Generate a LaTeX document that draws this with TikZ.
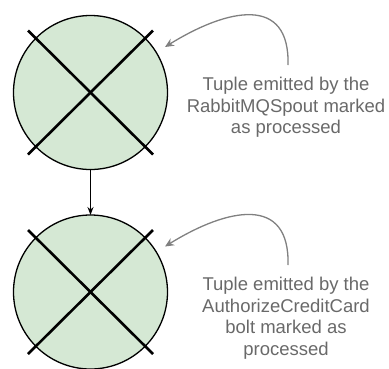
\documentclass[tikz,border=0pt]{standalone}
\usepackage{fontspec}
\setmainfont{Liberation Sans}
\usetikzlibrary{arrows.meta}
\definecolor{fillg}{HTML}{D5E8D4}
\definecolor{greyline}{RGB}{128,128,128}
\definecolor{greytext}{RGB}{105,105,105}
\begin{document}
\begin{tikzpicture}[x=1pt,y=-1pt,
  state/.style={circle, draw=black, line width=1.3pt, fill=fillg, minimum size=154pt, inner sep=0pt, outer sep=0pt},
  crossline/.style={line width=2.6pt, black},
  note/.style={align=center, text=greytext, font=\fontsize{18.5}{21.5}\selectfont, inner sep=0pt},
  callout/.style={greyline, line width=1.3pt, -{Stealth[length=9pt,width=8pt,inset=3pt]}},
  flow/.style={black, line width=1.3pt, -{Stealth[length=8pt,width=6pt]}}
]
\useasboundingbox (0,0) rectangle (389,368);
\node[state] (c1) at (90.5,92.5) {};
\node[state] (c2) at (90.5,292) {};
\draw[crossline] ([shift={(-62.5,-62)}]c1.center) -- ([shift={(62.5,62)}]c1.center);
\draw[crossline] ([shift={(62.5,-62)}]c1.center) -- ([shift={(-62.5,62)}]c1.center);
\draw[crossline] ([shift={(-62.5,-62)}]c2.center) -- ([shift={(62.5,62)}]c2.center);
\draw[crossline] ([shift={(62.5,-62)}]c2.center) -- ([shift={(-62.5,62)}]c2.center);
\draw[flow] (c1.south) -- (c2.north);
\node[note, anchor=north] (t1) at (286,77) {Tuple emitted by the\\RabbitMQSpout marked\\as processed};
\node[note, anchor=north] (t2) at (286,277) {Tuple emitted by the\\AuthorizeCreditCard\\bolt marked as\\processed};
\coordinate (s1) at ([shift={(2,-12)}]t1.north);
\coordinate (s2) at ([shift={(2,-12)}]t2.north);
\coordinate (a1) at ([shift={(74.5,-45.5)}]c1.center);
\coordinate (a2) at ([shift={(74.5,-45.5)}]c2.center);
\draw[callout] (s1) .. controls +(2,-70) and +(63,-39) .. (a1);
\draw[callout] (s2) .. controls +(2,-70) and +(63,-39) .. (a2);
\end{tikzpicture}
\end{document}
